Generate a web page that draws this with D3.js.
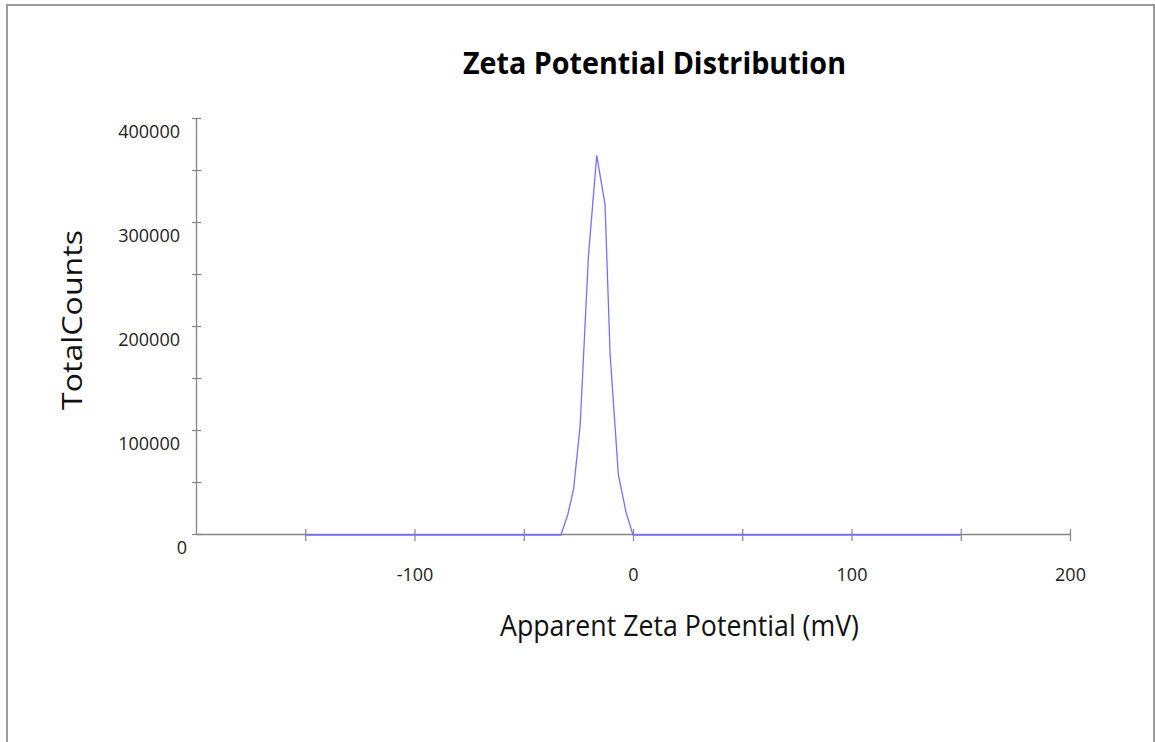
<!DOCTYPE html>
<html>
<head>
<meta charset="utf-8">
<script src="https://cdn.jsdelivr.net/npm/d3@7"></script>
<style>
    body { margin: 0; background: #fff; }
    svg { display: block; }
</style>
</head>
<body>
<div id="chart"></div>
<script>
// zeta potential (mV) and total counts
const zetaMv = [-150, -33, -29.8, -27.2, -24.2, -20.4, -16.6, -12.8, -10.5, -6.7, -3.2, 0, 150];
const counts = [0, 0, 20000, 44000, 105000, 268000, 365000, 318000, 175000, 58000, 22000, 0, 0];

const xTicks = [-150, -100, -50, 0, 50, 100, 150, 200];
const xLabels = [-100, 0, 100, 200];
const yTicks = [0, 50000, 100000, 150000, 200000, 250000, 300000, 350000, 400000];
const yLabels = [0, 100000, 200000, 300000, 400000];

const titleText = "Zeta Potential Distribution";
const xTitle = "Apparent Zeta Potential (mV)";
const yTitle = "TotalCounts";

const W = 1155, H = 742;
const margin = { top: 118, right: 85, bottom: 208, left: 196 };
const width = W - margin.left - margin.right,
    height = H - margin.top - margin.bottom;
const FONT = "'Open Sans', sans-serif";

const svg = d3.select("#chart").append("svg")
    .attr("width", W)
    .attr("height", H)
    .style("font-family", FONT);

// outer frame (bottom edge is off the picture)
svg.append("rect")
    .attr("x", 7).attr("y", 5)
    .attr("width", W - 8).attr("height", H + 20)
    .attr("fill", "none")
    .attr("stroke", "#9a9a9a")
    .attr("stroke-width", 2);

const g = svg.append("g").attr("transform", `translate(${margin.left},${margin.top})`);

const xScale = d3.scaleLinear([-200, 200], [0, width]);
const yScale = d3.scaleLinear([0, 400000], [height, 0]);

const axisColor = "#858585";

// x axis
const xAxis = g.append("g")
    .attr("transform", `translate(0,${height})`)
    .call(d3.axisBottom(xScale).tickValues(xTicks).tickSize(0).tickFormat(""));
xAxis.select(".domain").attr("stroke", axisColor).attr("stroke-width", 1.3);
xAxis.selectAll(".tick line")
    .attr("y1", -5).attr("y2", 7)
    .attr("stroke", axisColor).attr("stroke-width", 1.2);
xAxis.selectAll(".tick").filter(d => xLabels.includes(d))
    .append("text")
    .attr("y", 47)
    .attr("fill", "#222")
    .attr("font-family", FONT)
    .attr("font-size", 18)
    .attr("text-anchor", "middle")
    .text(d => d);

// y axis
const yAxis = g.append("g")
    .call(d3.axisLeft(yScale).tickValues(yTicks).tickSize(0).tickFormat(""));
yAxis.select(".domain").attr("stroke", axisColor).attr("stroke-width", 1.3);
yAxis.selectAll(".tick line")
    .attr("x1", -4).attr("x2", 5)
    .attr("stroke", axisColor).attr("stroke-width", 1.2);
yAxis.selectAll(".tick").filter(d => yLabels.includes(d))
    .append("text")
    .attr("x", d => d === 0 ? -9 : -16)
    .attr("y", 19)
    .attr("fill", "#222")
    .attr("font-family", FONT)
    .attr("font-size", 18)
    .attr("text-anchor", "end")
    .text(d => d);

// the distribution curve
g.append("path")
    .datum(zetaMv)
    .attr("fill", "none")
    .attr("stroke", "#7272ff")
    .attr("stroke-width", 1.3)
    .attr("d", d3.line()
        .x(d => xScale(d))
        .y((_, i) => yScale(counts[i]) + 1)
    );

// titles
svg.append("text")
    .attr("x", 463).attr("y", 74)
    .attr("font-size", 30)
    .attr("font-weight", 700)
    .attr("fill", "#000")
    .attr("textLength", 383)
    .attr("lengthAdjust", "spacingAndGlyphs")
    .text(titleText);

svg.append("text")
    .attr("x", 500).attr("y", 636)
    .attr("font-size", 29)
    .attr("fill", "#111")
    .attr("textLength", 359)
    .attr("lengthAdjust", "spacingAndGlyphs")
    .text(xTitle);

svg.append("text")
    .attr("transform", "translate(82,410) rotate(-90)")
    .attr("font-size", 28)
    .attr("fill", "#111")
    .attr("textLength", 180)
    .attr("lengthAdjust", "spacingAndGlyphs")
    .text(yTitle);
</script>
</body>
</html>
